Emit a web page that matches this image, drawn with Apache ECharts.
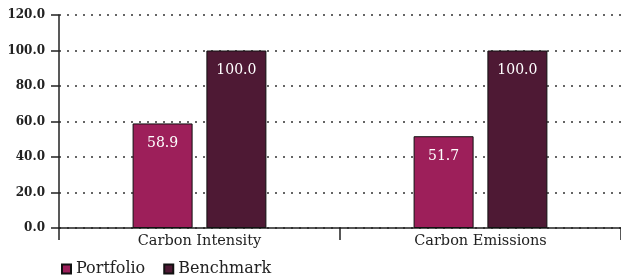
<!DOCTYPE html>
<html><head><meta charset="utf-8">
<script src="https://cdn.jsdelivr.net/npm/echarts@6/dist/echarts.min.js"></script>
<style>html,body{margin:0;padding:0;background:#fff}#c{width:621px;height:278px}</style>
</head><body><div id="c"></div>
<script>
var categories = ["Carbon Intensity", "Carbon Emissions"];
var portfolio = [58.9, 51.7];
var benchmark = [100.0, 100.0];
var seriesNames = ["Portfolio", "Benchmark"];
var FONT = "DejaVu Serif";
var chart = echarts.init(document.getElementById('c'), null, {renderer: 'canvas'});
var lbl = {show: true, position: 'insideTop', distance: 13, color: '#fff', fontFamily: FONT, fontSize: 14,
  formatter: function(p){return p.value.toFixed(1);}};
chart.setOption({
  animation: false,
  textStyle: {fontFamily: FONT},
  grid: {left: 59, right: 0, top: 15, bottom: 50, containLabel: false},
  legend: {left: 56, top: 256, itemWidth: 9, itemHeight: 9, itemGap: 18, icon: 'rect',
    textStyle: {fontFamily: FONT, fontSize: 16, color: '#222'}, data: seriesNames},
  xAxis: {type: 'category', data: categories, boundaryGap: true,
    axisLine: {lineStyle: {color: '#222', width: 1.5}},
    axisTick: {show: true, length: 12, lineStyle: {color: '#222', width: 1.5}},
    axisLabel: {color: '#222', fontFamily: FONT, fontSize: 14.5, margin: 6}},
  yAxis: {type: 'value', min: 0, max: 120, interval: 20,
    axisLine: {show: true, lineStyle: {color: '#222', width: 1.5}},
    axisTick: {show: true, length: 8, lineStyle: {color: '#222', width: 1.5}},
    axisLabel: {color: '#222', fontFamily: FONT, fontWeight: 'bold', fontSize: 12, margin: 14,
      formatter: function(v){return v.toFixed(1);}},
    splitLine: {show: true, lineStyle: {color: '#333', type: [2, 6], width: 1.5}}},
  series: [
    {name: seriesNames[0], type: 'bar', data: portfolio, barWidth: 60, barGap: '23%',
     itemStyle: {color: '#9D1F5A', borderColor: '#111', borderWidth: 1}, label: lbl},
    {name: seriesNames[1], type: 'bar', data: benchmark, barWidth: 60,
     itemStyle: {color: '#4E1934', borderColor: '#111', borderWidth: 1}, label: lbl}
  ]
});
</script></body></html>
